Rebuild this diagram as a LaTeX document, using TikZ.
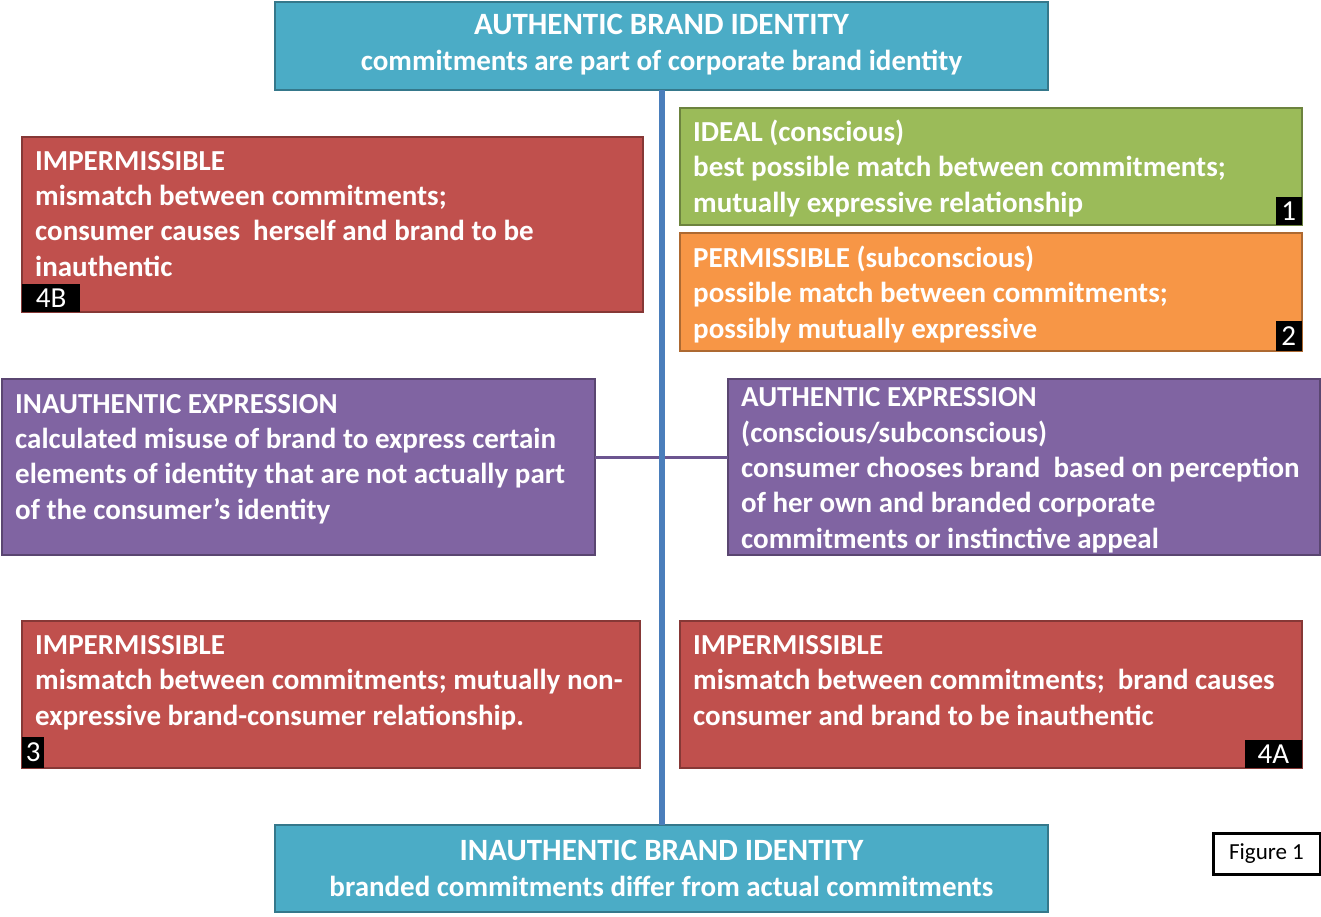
\documentclass[tikz,border=0pt]{standalone}
\usepackage{fontspec}
\setmainfont{Carlito}
\begin{document}
\begin{tikzpicture}[x=1pt,y=-1pt,
  box/.style={draw=#1!70!black, line width=2pt, fill=#1, rectangle, inner sep=0pt, outer sep=0pt},
  % multi-line texts are placed by the baseline of their last line
  txt/.style={font=\fontsize{29}{35.3}\selectfont\bfseries, text=white, align=left, inner sep=0pt, anchor=base west},
  ttl/.style={font=\fontsize{29}{36}\selectfont\bfseries, text=white, align=center, inner sep=0pt, anchor=base},
  tag/.style={fill=black, text=white, font=\fontsize{29}{29}\selectfont, inner sep=0pt, minimum height=28pt},
  spine/.style={draw=spineblue, line width=6pt},
  link/.style={draw=linkpurple, line width=3pt}]
\definecolor{cteal}{HTML}{4BACC6}
\definecolor{cred}{HTML}{C0504D}
\definecolor{cgreen}{HTML}{9BBB59}
\definecolor{corange}{HTML}{F79646}
\definecolor{cpurple}{HTML}{8064A2}
\definecolor{spineblue}{HTML}{4A7EBB}
\definecolor{linkpurple}{HTML}{6C5590}
\newcommand{\headline}[1]{{\fontsize{31}{36}\selectfont #1}}
\useasboundingbox (0,0) rectangle (1321,916);

% boxes
\node[box=cteal, minimum width=773pt, minimum height=88pt] (top) at (661.5,46) {};
\node[box=cteal, minimum width=773pt, minimum height=87pt] (bot) at (661.5,868.5) {};
\node[box=cred, minimum width=621pt, minimum height=175pt] (r4b) at (332.5,224.5) {};
\node[box=cgreen, minimum width=622pt, minimum height=117pt] (ideal) at (991,166.5) {};
\node[box=corange, minimum width=622pt, minimum height=118pt] (perm) at (991,292) {};
\node[box=cpurple, minimum width=593pt, minimum height=176pt] (pl) at (298.5,467) {};
\node[box=cpurple, minimum width=592pt, minimum height=176pt] (pr) at (1024,467) {};
\node[box=cred, minimum width=618pt, minimum height=147pt] (r3) at (331,694.5) {};
\node[box=cred, minimum width=622pt, minimum height=147pt] (r4a) at (991,694.5) {};

% connectors
\draw[link] ([yshift=10pt]pl.east) -- ([yshift=10pt]pr.west);
\draw[spine] (top.south) -- (bot.north);

% titles
\node[ttl] (toptxt) at (661.5,70) {\headline{AUTHENTIC BRAND IDENTITY}\\commitments are part of corporate brand identity};
\node[ttl] (bottxt) at (661.5,896) {\headline{INAUTHENTIC BRAND IDENTITY}\\branded commitments differ from actual commitments};

% box texts
\node[txt] (t4b) at (35,276) {IMPERMISSIBLE\\mismatch between commitments;\\consumer causes\ \ herself and brand to be\\inauthentic};
\node[txt] (tideal) at (693,212) {IDEAL (conscious)\\best possible match between commitments;\\mutually expressive relationship};
\node[txt] (tperm) at (693,338) {PERMISSIBLE (subconscious)\\possible match between commitments;\\possibly mutually expressive};
\node[txt] (tpl) at (15,519) {INAUTHENTIC EXPRESSION\\calculated misuse of brand to express certain\\elements of identity that are not actually part\\of the consumer’s identity};
\node[txt] (tpr) at (741,548) {AUTHENTIC EXPRESSION\\(conscious/subconscious)\\consumer chooses brand\ \ based on perception\\of her own and branded corporate\\commitments or instinctive appeal};
\node[txt] (t3) at (35,725) {IMPERMISSIBLE\\mismatch between commitments; mutually non-\\expressive brand-consumer relationship.};
\node[txt] (t4a) at (693,725) {IMPERMISSIBLE\\mismatch between commitments;\ \ brand causes\\consumer and brand to be inauthentic};

% number tags
\node[tag, minimum width=58pt, anchor=south west] (n4b) at (r4b.south west) {4B};
\node[tag, minimum width=26pt, anchor=south east] (n1) at (ideal.south east) {1};
\node[tag, minimum width=26pt, minimum height=30pt, anchor=south east] (n2) at (perm.south east) {2};
\node[tag, minimum width=22pt, minimum height=31pt, anchor=south west] (n3) at (r3.south west) {3};
\node[tag, minimum width=57pt, anchor=south east] (n4a) at (r4a.south east) {4A};

% figure label
\node[draw=black, line width=3pt, fill=white, minimum width=107pt, minimum height=41pt, inner sep=0pt, font=\fontsize{23}{23}\selectfont] (fig) at (1266.5,853.5) {Figure 1};
\end{tikzpicture}
\end{document}
